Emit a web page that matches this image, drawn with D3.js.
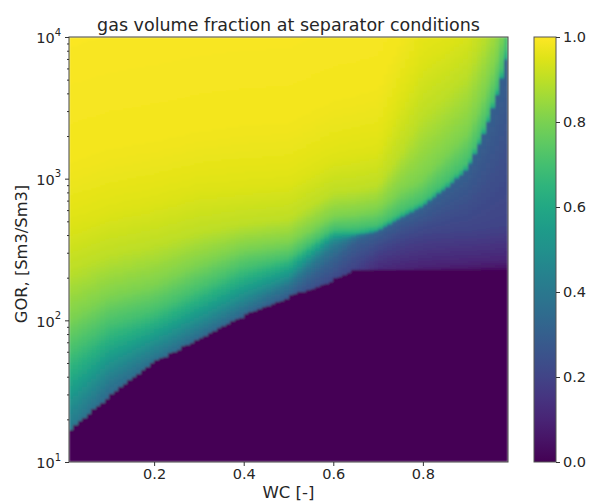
<!DOCTYPE html>
<html><head><meta charset="utf-8">
<script src="https://cdn.jsdelivr.net/npm/d3@7"></script>
<style>
body{margin:0;background:#fff}
svg{display:block}
text{font-family:"DejaVu Sans",sans-serif;fill:#262626}
</style>
</head><body>
<svg id="chart" width="589" height="502"></svg>
<script>
// ---------- data ----------
// WC columns at which the field was read
const wcKnots = [0.01, 0.1, 0.2, 0.3, 0.4, 0.5, 0.6, 0.65, 0.7, 0.75, 0.8, 0.85, 0.9, 0.93, 0.95, 0.97, 0.99];
// GOR below which the gas volume fraction is 0 (sharp lower edge)
const edgeGor = [16.5, 29, 51, 74, 108, 146, 192, 228, 230, 230, 230, 230, 230, 230, 230, 230, 230];
// GOR at which the fraction reaches each level (one array per level, one value per WC column)
const contourLevels = [0, 0.1, 0.2, 0.3, 0.4, 0.5, 0.6, 0.7, 0.8, 0.9, 0.95, 0.98, 1.0];
const gorLevel000 = [2, 4, 8, 15, 25, 40, 60, 100, 150, 170, 190, 200, 205, 208, 210, 212, 215];
const gorLevel010 = [3.5, 8, 15, 30, 50, 80, 120, 170, 220, 232, 245, 250, 255, 258, 260, 262, 265];
const gorLevel020 = [6, 15, 28, 50, 80, 120, 180, 240, 310, 360, 400, 420, 430, 440, 450, 460, 470];
const gorLevel030 = [11, 26, 45, 70, 105, 150, 260, 360, 415, 510, 615, 820, 1140, 1850, 2750, 4300, 7800];
const gorLevel040 = [16.5, 36, 56, 84, 125, 180, 330, 395, 430, 530, 640, 850, 1180, 1900, 2800, 4400, 8000];
const gorLevel050 = [25, 48, 70, 102, 150, 202, 375, 400, 432, 532, 642, 852, 1182, 1902, 2802, 4402, 8002];
const gorLevel060 = [37, 65, 88, 128, 185, 237, 405, 405, 434, 535, 645, 855, 1185, 1905, 2805, 4405, 8005];
const gorLevel070 = [58, 92, 115, 165, 235, 275, 440, 445, 470, 580, 700, 930, 1300, 2100, 3100, 4900, 10000];
const gorLevel080 = [100, 145, 175, 245, 320, 350, 540, 560, 600, 800, 1000, 1450, 2100, 3400, 5000, 8000, 18000];
const gorLevel090 = [225, 290, 340, 420, 480, 520, 800, 830, 900, 1500, 2800, 3800, 5500, 9000, 13000, 20000, 35000];
const gorLevel095 = [475, 600, 700, 850, 900, 950, 1400, 1500, 1600, 3500, 7000, 9000, 12000, 20000, 28000, 40000, 60000];
const gorLevel098 = [1200, 1500, 1700, 2000, 2200, 2300, 3300, 3600, 4000, 9000, 20000, 25000, 30000, 40000, 50000, 70000, 100000];
const gorLevel100 = [30000, 35000, 40000, 45000, 50000, 50000, 60000, 60000, 70000, 80000, 100000, 100000, 100000, 120000, 150000, 200000, 300000];

// grid of the image (cells)
const wcRange = [0.01, 0.99];
const gorRange = [10, 10000];
const nWcCells = 98;
const nGorCells = 250;

// ticks and texts
const xTicks = [0.2, 0.4, 0.6, 0.8];
const yTicks = [10, 100, 1000, 10000];
const cbTicks = [0.0, 0.2, 0.4, 0.6, 0.8, 1.0];
const titleText = "gas volume fraction at separator conditions";
const xLabel = "WC [-]";
const yLabel = "GOR, [Sm3/Sm3]";

// ---------- build table ----------
const contourGor = [gorLevel000, gorLevel010, gorLevel020, gorLevel030, gorLevel040, gorLevel050,
  gorLevel060, gorLevel070, gorLevel080, gorLevel090, gorLevel095, gorLevel098, gorLevel100];

function profileAt(wc) {
  let j = d3.bisectRight(wcKnots, wc) - 1;
  j = Math.max(0, Math.min(wcKnots.length - 2, j));
  let t = (wc - wcKnots[j]) / (wcKnots[j + 1] - wcKnots[j]);
  t = Math.max(0, Math.min(1, t));
  const L = (a, b) => Math.log10(a) + (Math.log10(b) - Math.log10(a)) * t;
  return {
    edge: L(edgeGor[j], edgeGor[j + 1]),
    lv: contourGor.map(arr => L(arr[j], arr[j + 1]))
  };
}
function valueAt(p, lg) {
  if (lg < p.edge) return 0;
  const lv = p.lv;
  if (lg <= lv[0]) return 0;
  for (let k = 0; k < lv.length - 1; k++) {
    if (lg < lv[k + 1]) {
      const d = lv[k + 1] - lv[k];
      const f = d > 0 ? (lg - lv[k]) / d : 1;
      return contourLevels[k] + (contourLevels[k + 1] - contourLevels[k]) * f;
    }
  }
  return 1;
}

const wcStep = (wcRange[1] - wcRange[0]) / nWcCells;
const lgMin = Math.log10(gorRange[0]), lgMax = Math.log10(gorRange[1]);
const lgStep = (lgMax - lgMin) / nGorCells;
const cells = [];
for (let i = 0; i < nWcCells; i++) {
  const wc0 = wcRange[0] + i * wcStep, wc1 = wc0 + wcStep;
  const p = profileAt((wc0 + wc1) / 2);
  for (let j = 0; j < nGorCells; j++) {
    const l0 = lgMin + j * lgStep, l1 = l0 + lgStep;
    cells.push({wc0, wc1, g0: Math.pow(10, l0), g1: Math.pow(10, l1), v: valueAt(p, (l0 + l1) / 2)});
  }
}

// ---------- draw ----------
const svg = d3.select("#chart");
const m = {l: 69, r: 508, t: 37, b: 462};
const x = d3.scaleLinear().domain(wcRange).range([m.l, m.r]);
const y = d3.scaleLog().domain(gorRange).range([m.b, m.t]);
const color = d3.scaleSequential(d3.interpolateViridis).domain([0, 1]);

const defs = svg.append("defs");
defs.append("clipPath").attr("id", "plotclip").append("rect")
  .attr("x", m.l).attr("y", m.t).attr("width", m.r - m.l).attr("height", m.b - m.t);
defs.append("filter").attr("id", "soft").attr("x", "-2%").attr("y", "-2%").attr("width", "104%").attr("height", "104%")
  .append("feGaussianBlur").attr("stdDeviation", 0.8);

svg.append("g").attr("clip-path", "url(#plotclip)")
  .append("g").attr("filter", "url(#soft)").attr("shape-rendering", "crispEdges")
  .selectAll("rect").data(cells).join("rect")
  .attr("x", d => x(d.wc0)).attr("width", d => x(d.wc1) - x(d.wc0))
  .attr("y", d => y(d.g1)).attr("height", d => y(d.g0) - y(d.g1))
  .attr("fill", d => color(d.v));

// frame
svg.append("rect").attr("x", m.l).attr("y", m.t).attr("width", m.r - m.l).attr("height", m.b - m.t)
  .attr("fill", "none").attr("stroke", "#444").attr("stroke-width", 1);

const fs = "14.5px";
// x axis
const gx = svg.append("g").attr("transform", `translate(0,${m.b})`)
  .call(d3.axisBottom(x).tickValues(xTicks).tickFormat(d3.format(".1f")).tickSize(4).tickPadding(3).tickSizeOuter(0));
gx.select(".domain").remove();
gx.selectAll("line").attr("stroke", "#333");
gx.selectAll("text").attr("font-size", fs).attr("font-family", "DejaVu Sans").attr("fill", "#262626");

// y axis major
const gy = svg.append("g").attr("transform", `translate(${m.l},0)`)
  .call(d3.axisLeft(y).tickValues(yTicks).tickSize(4).tickPadding(4).tickSizeOuter(0).tickFormat(""));
gy.select(".domain").remove();
gy.selectAll("line").attr("stroke", "#333");
gy.selectAll(".tick text").each(function(d) {
  const t = d3.select(this).attr("font-size", fs).attr("font-family", "DejaVu Sans").attr("fill", "#262626").attr("dy", "0.4em");
  t.text(null);
  t.append("tspan").text("10");
  t.append("tspan").attr("font-size", "10px").attr("dy", "-0.75em").text(Math.round(Math.log10(d)));
});
// y axis minor
const minor = [];
yTicks.slice(0, -1).forEach(b => { for (let k = 2; k <= 9; k++) minor.push(b * k); });
const gym = svg.append("g").attr("transform", `translate(${m.l},0)`)
  .call(d3.axisLeft(y).tickValues(minor).tickSize(2).tickFormat("").tickSizeOuter(0));
gym.select(".domain").remove();
gym.selectAll("line").attr("stroke", "#333");

// labels
svg.append("text").attr("x", (m.l + m.r) / 2).attr("y", 31).attr("text-anchor", "middle")
  .attr("font-size", "17.5px").text(titleText);
svg.append("text").attr("x", (m.l + m.r) / 2).attr("y", 498).attr("text-anchor", "middle")
  .attr("font-size", "16.5px").text(xLabel);
svg.append("text").attr("transform", `translate(27,254) rotate(-90)`).attr("text-anchor", "middle")
  .attr("font-size", "16.3px").text(yLabel);

// colorbar
const cb = {l: 534, r: 556};
const cy = d3.scaleLinear().domain([0, 1]).range([m.b, m.t]);
const grad = defs.append("linearGradient").attr("id", "vir")
  .attr("x1", 0).attr("y1", 1).attr("x2", 0).attr("y2", 0);
d3.range(0, 1.0001, 0.05).forEach(s => grad.append("stop").attr("offset", s).attr("stop-color", color(s)));
svg.append("rect").attr("x", cb.l).attr("y", m.t).attr("width", cb.r - cb.l).attr("height", m.b - m.t)
  .attr("fill", "url(#vir)").attr("stroke", "#555").attr("stroke-width", 1);
const gc = svg.append("g").attr("transform", `translate(${cb.r},0)`)
  .call(d3.axisRight(cy).tickValues(cbTicks).tickFormat(d3.format(".1f")).tickSize(4).tickPadding(3).tickSizeOuter(0));
gc.select(".domain").remove();
gc.selectAll("line").attr("stroke", "#333");
gc.selectAll("text").attr("font-size", fs).attr("font-family", "DejaVu Sans").attr("fill", "#262626");
</script>
</body></html>
